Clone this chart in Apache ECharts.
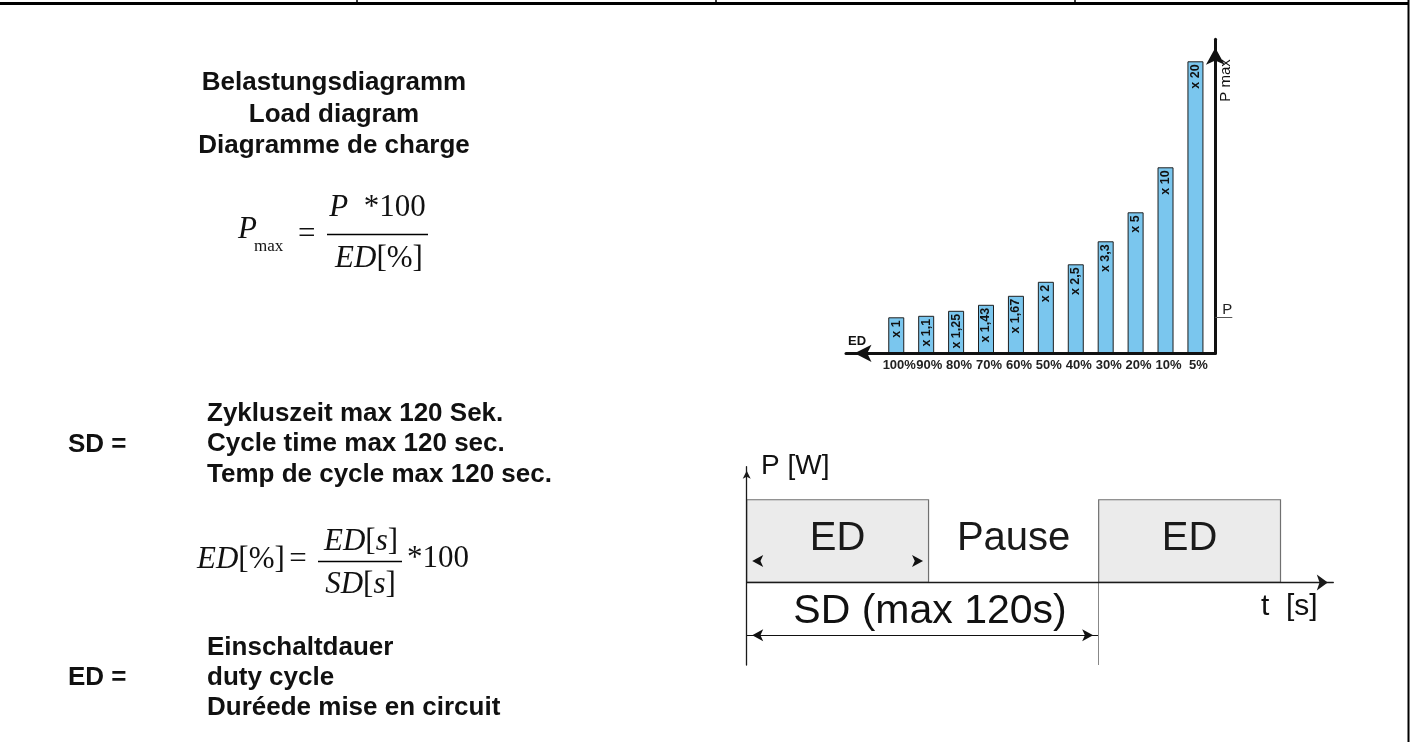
<!DOCTYPE html>
<html><head><meta charset="utf-8">
<script src="https://cdn.jsdelivr.net/npm/echarts@6/dist/echarts.min.js"></script>
<style>html,body{margin:0;padding:0;background:#fff}#c{width:1412px;height:742px}</style>
</head><body><div id="c"></div>
<script>
// ---------- data ----------
const edLabels = ['100%','90%','80%','70%','60%','50%','40%','30%','20%','10%','5%'];
const multipliers = ['x 1','x 1,1','x 1,25','x 1,43','x 1,67','x 2','x 2,5','x 3,3','x 5','x 10','x 20'];
const barHeights = [36, 37.5, 42.5, 48.5, 57.5, 71.5, 89, 112, 141, 186, 292];
const phaseNames = ['ED', 'Pause', 'ED'];
const phaseStart = [0, 62, 120];
const phaseEnd = [62, 120, 182];
const phaseOn = [1, 0, 1];
const cycleMax = 120;
const timeAxisMax = 200;

// ---------- style ----------
const SANS = '"Liberation Sans", Arial, sans-serif';
const SERIF = '"Liberation Serif", "Times New Roman", serif';
const TEXT_LEVEL = 0.52, ED_ARROW_LEVEL = 0.26, SD_ARROW_LEVEL = -0.64;

function txt(text, x, y, size, opt) {
  opt = opt || {};
  return { type: 'text', x: x, y: y, rotation: opt.rotation || 0, silent: true, z: 10,
    style: { text: text, fill: opt.color || '#111', fontSize: size, fontFamily: opt.family || SANS,
      fontWeight: opt.weight || 'normal', fontStyle: opt.fstyle || 'normal',
      align: opt.align || 'left', verticalAlign: opt.valign || 'middle', rich: opt.rich } };
}
function ln(x1, y1, x2, y2, w, c) {
  return { type: 'line', silent: true, z: 10, shape: { x1: x1, y1: y1, x2: x2, y2: y2 },
    style: { stroke: c || '#000', lineWidth: w } };
}
const richMath = {
  i: { fontFamily: SERIF, fontStyle: 'italic', fontSize: 31, fill: '#111' },
  n: { fontFamily: SERIF, fontSize: 31, fill: '#111' },
  s: { fontFamily: SERIF, fontSize: 17, fill: '#111' }
};

const graphics = [
  // frame
  ln(0, 3.5, 1409, 3.5, 3), ln(357, 0, 357, 3, 1.5), ln(716, 0, 716, 3, 1.5), ln(1075, 0, 1075, 3, 1.5),
  ln(1408.5, 0, 1408.5, 742, 2),
  // title
  txt('Belastungsdiagramm', 334, 83, 26, { weight: 'bold', align: 'center' }),
  txt('Load diagram', 334, 114.5, 26, { weight: 'bold', align: 'center' }),
  txt('Diagramme de charge', 334, 146, 26, { weight: 'bold', align: 'center' }),
  // formula 1
  txt('{i|P}', 238, 230, 31, { rich: richMath }),
  txt('{s|max}', 254, 247, 17, { rich: richMath }),
  txt('{n|=}', 298, 235, 31, { rich: richMath }),
  ln(327, 234.5, 428, 234.5, 1.3),
  txt('{i|P}{n|  *100}', 377.5, 208, 31, { rich: richMath, align: 'center' }),
  txt('{i|ED}{n|[%]}', 379, 259, 31, { rich: richMath, align: 'center' }),
  // SD block
  txt('SD =', 68, 445, 26, { weight: 'bold' }),
  txt('Zykluszeit max 120 Sek.', 207, 414, 26, { weight: 'bold' }),
  txt('Cycle time max 120 sec.', 207, 444, 26, { weight: 'bold' }),
  txt('Temp de cycle max 120 sec.', 207, 475, 26, { weight: 'bold' }),
  // formula 2
  txt('{i|ED}{n|[%]}', 197, 560, 31, { rich: richMath }),
  txt('{n|=}', 298, 560, 31, { rich: richMath, align: 'center' }),
  ln(318, 561.5, 402, 561.5, 1.3),
  txt('{i|ED}{n|[}{i|s}{n|]}', 361, 542, 31, { rich: richMath, align: 'center' }),
  txt('{i|SD}{n|[}{i|s}{n|]}', 360.5, 585, 31, { rich: richMath, align: 'center' }),
  txt('{n|*100}', 407, 559, 31, { rich: richMath }),
  // ED block
  txt('ED =', 68, 678, 26, { weight: 'bold' }),
  txt('Einschaltdauer', 207, 648, 26, { weight: 'bold' }),
  txt('duty cycle', 207, 678, 26, { weight: 'bold' }),
  txt('Duréede mise en circuit', 207, 708, 26, { weight: 'bold' }),
  // bar diagram texts
  txt('ED', 848, 341, 13, { weight: 'bold' }),
  txt('P max', 1226, 80.5, 15, { rotation: Math.PI / 2, align: 'center' }),
  // pulse diagram texts
  txt('P [W]', 761, 466, 28),
  txt('t  [s]', 1261, 606.5, 30),
  txt('SD (max 120s)', 930, 612, 41, { align: 'center' })
];

const phases = phaseStart.map((s, i) => [s, phaseEnd[i], phaseOn[i]]);

const option = {
  backgroundColor: '#ffffff',
  animation: false,
  grid: [
    { left: 881.3, right: 201.6, top: 53.3, bottom: 388.7 },
    { left: 846, right: 196.7, top: 39.3, bottom: 388.7 },
    { left: 746.7, right: 78.7, top: 466.7, bottom: 77 }
  ],
  xAxis: [
    { gridIndex: 0, type: 'category', data: edLabels,
      axisLine: { show: false }, axisTick: { show: false },
      axisLabel: { interval: 0, margin: 6, fontSize: 13, fontWeight: 'bold', color: '#222', fontFamily: SANS, padding: [0, 0, 0, 6] } },
    { gridIndex: 1, type: 'value', min: 0, max: 1, z: 5,
      axisLine: { show: true, onZero: true, symbol: ['arrow', 'none'], symbolSize: [13, 17], symbolOffset: [8.5, 0],
        lineStyle: { color: '#111', width: 3 } },
      axisTick: { show: false }, axisLabel: { show: false }, splitLine: { show: false } },
    { gridIndex: 2, type: 'value', min: 0, max: timeAxisMax, z: 5,
      axisLine: { show: true, onZero: true, symbol: ['none', 'arrow'], symbolSize: [12, 11], symbolOffset: [0, -5.5],
        lineStyle: { color: '#1a1a1a', width: 1.3 } },
      axisTick: { show: false }, axisLabel: { show: false }, splitLine: { show: false } }
  ],
  yAxis: [
    { gridIndex: 0, type: 'value', min: 0, max: 300, show: false, splitLine: { show: false } },
    { gridIndex: 1, type: 'value', min: 0, max: 314, position: 'right', z: 5,
      axisLine: { show: true, onZero: false, symbol: ['none', 'arrow'], symbolSize: [14, 17], symbolOffset: [0, -8.5],
        lineStyle: { color: '#111', width: 3 } },
      axisTick: { show: true, customValues: [barHeights[0]], length: 17, inside: false, lineStyle: { color: '#555', width: 1 } },
      axisLabel: { show: true, customValues: [barHeights[0]], formatter: function () { return 'P'; }, margin: 7,
        fontSize: 15, color: '#222', fontFamily: SANS, align: 'left', verticalAlign: 'bottom' },
      splitLine: { show: false } },
    { gridIndex: 2, type: 'value', min: -1, max: 1.4, z: 5,
      axisLine: { show: true, onZero: false, symbol: ['none', 'arrow'], symbolSize: [6, 8], symbolOffset: [0, -4],
        lineStyle: { color: '#1a1a1a', width: 1.3 } },
      axisTick: { show: false }, axisLabel: { show: false }, splitLine: { show: false } }
  ],
  series: [
    { type: 'bar', xAxisIndex: 0, yAxisIndex: 0, data: barHeights, barWidth: 16, z: 2,
      itemStyle: { color: '#7AC6EE', borderColor: '#1e1e1e', borderWidth: 1 },
      label: { show: true, formatter: function (p) { return multipliers[p.dataIndex]; },
        position: 'insideTop', distance: 3, rotate: 90, align: 'right', verticalAlign: 'middle',
        fontSize: 12.5, fontWeight: 'bold', color: '#111', fontFamily: SANS },
      emphasis: { disabled: true }, silent: true },
    { type: 'custom', xAxisIndex: 2, yAxisIndex: 2, data: phases, encode: { x: [0, 1], y: 2 }, z: 1, silent: true,
      renderItem: function (params, api) {
        const s = api.value(0), e = api.value(1), on = api.value(2);
        const children = [];
        if (on) {
          const p0 = api.coord([s, on]);
          const p1 = api.coord([e, 0]);
          children.push({ type: 'rect', shape: { x: p0[0], y: p0[1], width: p1[0] - p0[0], height: p1[1] - p0[1] },
            style: { fill: '#EBEBEB', stroke: '#707070', lineWidth: 1.2 } });
        }
        const c = api.coord([(s + e) / 2, TEXT_LEVEL]);
        children.push({ type: 'text', x: c[0], y: c[1],
          style: { text: phaseNames[params.dataIndex], fontSize: 40, fontFamily: SANS, fill: '#1a1a1a', align: 'center', verticalAlign: 'middle' } });
        return { type: 'group', children: children };
      },
      markLine: {
        silent: true, animation: false, symbol: ['arrow', 'arrow'], symbolSize: [9, 11],
        label: { show: false }, emphasis: { disabled: true },
        lineStyle: { color: '#111', width: 1, type: 'solid' },
        data: [
          [{ coord: [0, ED_ARROW_LEVEL], symbolOffset: [0, 5.5], lineStyle: { width: 0, color: '#111' } },
           { coord: [phaseEnd[0], ED_ARROW_LEVEL], symbolOffset: [0, 5.5] }],
          [{ coord: [0, SD_ARROW_LEVEL], symbolOffset: [0, 5.5] },
           { coord: [cycleMax, SD_ARROW_LEVEL], symbolOffset: [0, 5.5] }],
          [{ coord: [cycleMax, -1], symbol: 'none', lineStyle: { color: '#888', width: 1 } },
           { coord: [cycleMax, 0], symbol: 'none' }]
        ]
      } }
  ],
  graphic: graphics
};

const chart = echarts.init(document.getElementById('c'), null, { renderer: 'canvas' });
chart.setOption(option);
</script>
</body></html>
